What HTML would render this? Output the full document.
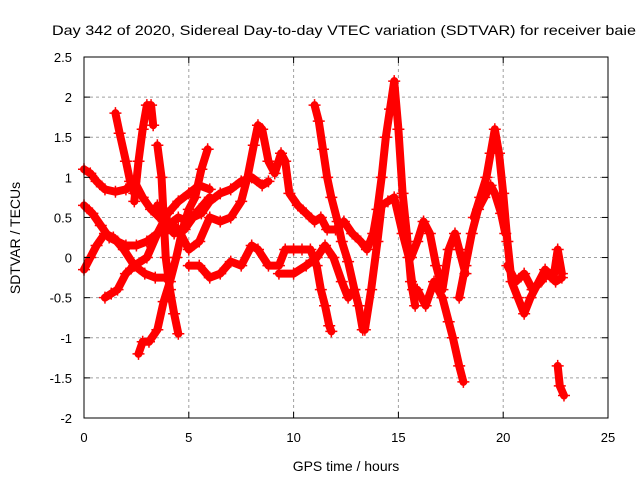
<!DOCTYPE html>
<html><head><meta charset="utf-8"><style>
body{margin:0;background:#fff;}
svg{display:block;font-family:"Liberation Sans",sans-serif;}
</style></head><body>
<svg id="chart" width="640" height="480">
<rect width="640" height="480" fill="#fff"/>
<text x="344" y="35" font-size="14" text-anchor="middle" textLength="584" lengthAdjust="spacingAndGlyphs">Day 342 of 2020, Sidereal Day-to-day VTEC variation (SDTVAR) for receiver baie</text>
<g id="grid"></g><g id="marks"></g><g id="axes"></g>
<text x="346" y="471" font-size="14" text-anchor="middle">GPS time / hours</text>
<text x="20" y="238" font-size="14" text-anchor="middle" transform="rotate(-90 20 238)">SDTVAR / TECUs</text>
</svg>
<script>
const xTicks=[0,5,10,15,20,25];
const yTicks=[-2,-1.5,-1,-0.5,0,0.5,1,1.5,2,2.5];
const track1=[[0,1.1],[0.3,1.05],[0.6,0.95],[1,0.85],[1.5,0.82],[2,0.85],[2.4,0.95],[2.8,0.75],[3.2,0.6],[3.8,0.45],[4.3,0.3],[4.8,0.35],[5.2,0.5],[5.6,0.55],[6,0.7],[6.5,0.8],[7,0.85],[7.5,0.95],[8,1.0],[8.5,0.9],[8.8,0.95]];
const track2=[[0,0.65],[0.4,0.55],[0.8,0.4],[1.2,0.25],[1.6,0.2],[2,0.15],[2.5,0.15],[3,0.2],[3.5,0.3],[4,0.4],[4.5,0.5],[5,0.45],[5.5,0.6],[6,0.75]];
const track3=[[0,-0.15],[0.3,0],[0.6,0.15],[1,0.3],[1.4,0.25],[1.9,0.1],[2.4,-0.1],[2.9,-0.2],[3.4,-0.25],[3.9,-0.25]];
const track4=[[1.5,1.8],[1.7,1.55],[2,1.2],[2.2,0.95],[2.4,0.8]];
const track5=[[2.4,0.7],[2.6,1.2],[2.8,1.6],[3,1.9],[3.2,1.9],[3.3,1.65]];
const track6=[[3.5,1.4],[3.7,1.0],[3.8,0.5],[3.9,0],[4.1,-0.4],[4.3,-0.7],[4.5,-0.95]];
const track7=[[2.6,-1.2],[2.8,-1.05],[3.1,-1.05],[3.5,-0.9],[3.8,-0.55],[4.1,-0.3],[4.4,0],[4.7,0.35],[5,0.6],[5.3,0.75],[5.6,1.1],[5.9,1.35]];
const track8=[[1,-0.5],[1.3,-0.45],[1.6,-0.4],[2,-0.2],[2.4,-0.1],[3,0],[3.5,0.3],[4,0.55],[4.5,0.7],[5,0.8],[5.5,0.9],[6,0.85]];
const track9=[[3.5,0.65],[4,0.45],[4.5,0.35],[5,0.1],[5.5,0.2],[6,0.5],[6.5,0.45],[7,0.5],[7.5,0.7],[7.8,1.0],[8.1,1.4],[8.3,1.65],[8.5,1.6],[8.8,1.2],[9.1,1.05],[9.4,1.3],[9.6,1.2],[9.8,0.8],[10.2,0.65],[10.6,0.55],[11,0.45],[11.3,0.5],[11.6,0.35],[12,0.35],[12.4,0.45],[12.8,0.3]];
const track10=[[5,-0.1],[5.5,-0.1],[6,-0.25],[6.5,-0.2],[7,-0.05],[7.5,-0.1],[8,0.15],[8.3,0.1],[8.8,-0.1],[9.3,-0.1],[9.6,0.1],[10,0.1],[10.4,0.1],[10.8,0.1],[11.1,-0.1],[11.3,-0.4],[11.5,-0.6],[11.7,-0.85],[11.8,-0.92]];
const track11=[[9.3,-0.2],[10,-0.2],[10.6,-0.1],[11.1,0],[11.5,0.15],[11.9,0],[12.3,-0.3],[12.6,-0.5],[12.9,-0.4]];
const track12=[[11,1.9],[11.2,1.7],[11.4,1.35],[11.6,1.0],[11.8,0.75],[12.1,0.45],[12.3,0.2],[12.6,-0.05],[12.9,-0.4],[13.1,-0.6],[13.3,-0.9]];
const track13=[[12.8,0.3],[13.2,0.2],[13.5,0.1],[13.8,0.3],[14,0.6],[14.2,1.0],[14.4,1.5],[14.6,1.85],[14.8,2.2],[15,1.6],[15.2,0.8],[15.4,0.3],[15.6,-0.3],[15.8,-0.6]];
const track14=[[13.4,-0.9],[13.7,-0.4],[14,0.2],[14.2,0.65],[14.5,0.7],[14.8,0.75],[15.2,0.3],[15.5,0],[15.7,-0.4]];
const track15=[[15.6,0],[15.9,0.2],[16.2,0.45],[16.5,0.3],[16.8,-0.1],[17.1,-0.4],[17.4,0.1],[17.7,0.3],[17.9,0.1],[18.2,-0.2]];
const track16=[[15.9,-0.4],[16.3,-0.6],[16.7,-0.3],[17.1,-0.5],[17.4,-0.8],[17.6,-1.0],[17.9,-1.35],[18.1,-1.55]];
const track17=[[17.9,-0.5],[18.2,-0.1],[18.5,0.3],[18.8,0.6],[19.1,0.75],[19.4,0.9],[19.6,0.8],[19.9,0.55],[20.1,0.3]];
const track18=[[18.6,0.5],[18.9,0.75],[19.2,1.0],[19.4,1.3],[19.6,1.6],[19.8,1.3],[20,0.8],[20.2,0.2],[20.4,-0.3],[20.7,-0.5],[21,-0.7],[21.3,-0.5],[21.6,-0.35],[22,-0.15],[22.4,-0.25],[22.6,0.1],[22.8,-0.2]];
const track19=[[20.2,-0.1],[20.6,-0.3],[21,-0.2],[21.4,-0.4],[21.8,-0.3],[22.1,-0.2],[22.5,-0.3],[22.8,-0.25]];
const track20=[[22.6,-1.35],[22.7,-1.6],[22.9,-1.72]];
const tracks=[track1,track2,track3,track4,track5,track6,track7,track8,track9,track10,track11,track12,track13,track14,track15,track16,track17,track18,track19,track20];

const L=84,R=608,T=57,B=418;
const xs=t=>L+(t-0)/25*(R-L);
const ys=v=>B-(v+2)/4.5*(B-T);
const NS='http://www.w3.org/2000/svg';
function mk(tag,parent,attrs){const e=document.createElementNS(NS,tag);for(const k in attrs)e.setAttribute(k,attrs[k]);parent.appendChild(e);return e;}
const grid=document.getElementById('grid'),axes=document.getElementById('axes'),marks=document.getElementById('marks');
xTicks.forEach(t=>{
  if(t>0&&t<25){const g=mk('line',grid,{x1:xs(t),x2:xs(t),y1:T,y2:B,stroke:'#a0a0a0','stroke-dasharray':'3,3'});
  
  }
  mk('line',axes,{x1:xs(t),x2:xs(t),y1:B,y2:B-6,stroke:'#000'});
  mk('line',axes,{x1:xs(t),x2:xs(t),y1:T,y2:T+6,stroke:'#000'});
  const lb=mk('text',axes,{x:xs(t),y:B+24,'font-size':13,'text-anchor':'middle'});lb.textContent=t;
  
  
});
yTicks.forEach(v=>{
  if(v>-2&&v<2.5){const g=mk('line',grid,{x1:L,x2:R,y1:ys(v),y2:ys(v),stroke:'#a0a0a0','stroke-dasharray':'3,3'});
  
  }
  mk('line',axes,{x1:L,x2:L+6,y1:ys(v),y2:ys(v),stroke:'#000'});
  mk('line',axes,{x1:R,x2:R-6,y1:ys(v),y2:ys(v),stroke:'#000'});
  const lb=mk('text',axes,{x:L-12,y:ys(v)+5,'font-size':13,'text-anchor':'end'});lb.textContent=v;
  
  
});
const fr=mk('rect',axes,{x:L,y:T,width:R-L,height:B-T,fill:'none',stroke:'#000'});


tracks.forEach((tr,i)=>{
  const pl=mk('polyline',marks,{points:tr.map(p=>xs(p[0])+','+ys(p[1])).join(' '),fill:'none',stroke:'#f00','stroke-width':8,'stroke-linejoin':'round','stroke-linecap':'round'});
  
  
  tr.forEach(p=>{
    const x=xs(p[0]),y=ys(p[1]);
    const m=mk('path',marks,{d:`M${x-6},${y}H${x+6}M${x},${y-6}V${y+6}`,stroke:'#f00','stroke-width':1.5});
    
    
  });
});
</script>
</body></html>
